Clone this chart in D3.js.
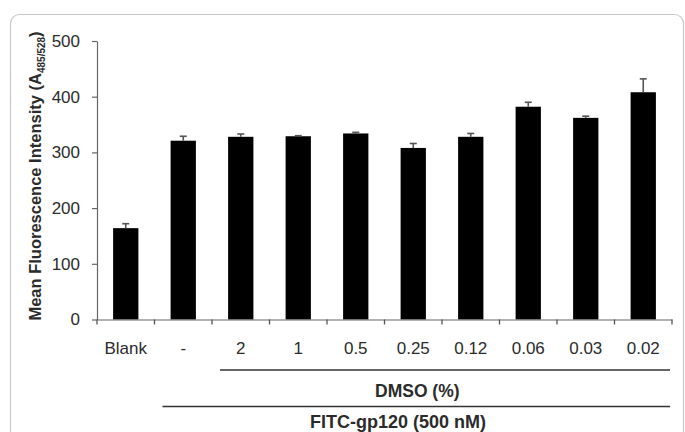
<!DOCTYPE html>
<html><head><meta charset="utf-8">
<script src="https://cdn.jsdelivr.net/npm/d3@7/dist/d3.min.js"></script>
<style>html,body{margin:0;padding:0;background:#fff;}svg{display:block;}</style>
</head><body>
<svg id="chart" width="685" height="432"></svg>
<script>
const categories = ["Blank","-","2","1","0.5","0.25","0.12","0.06","0.03","0.02"];
const means = [164, 321, 328, 329, 334, 308, 328, 382, 362, 408];
const errors = [8, 8, 5, 1, 2, 8, 6, 8, 3, 24];
const yTicks = [0, 100, 200, 300, 400, 500];
const groups = [
  {label: "DMSO (%)", from: "2", to: "0.02"},
  {label: "FITC-gp120 (500 nM)", from: "-", to: "0.02"}
];

(function(){
const svg = d3.select("#chart");
const font = "'Liberation Sans', Arial, sans-serif";
const textColor = "#2b2b2b";

// frame
svg.append("rect").attr("x",10.5).attr("y",14.5).attr("width",673).attr("height",460)
  .attr("rx",9).attr("fill","none").attr("stroke","#c8c8c8").attr("stroke-width",1.2);

const pl = 97, pr = 672, pt = 41, pb = 319.5;
const x = d3.scaleBand().domain(categories).range([pl, pr]).paddingInner(0.56).paddingOuter(0.28);
const y = d3.scaleLinear().domain([0, 500]).range([pb, pt]);
const step = x.step();

// bars
svg.selectAll("rect.bar").data(categories).join("rect").attr("class","bar")
  .attr("x", d => x(d)).attr("width", x.bandwidth())
  .attr("y", (d,i) => y(means[i])).attr("height", (d,i) => y(0) - y(means[i]))
  .attr("fill","#000");

// error bars
const eb = svg.append("g").attr("stroke","#555").attr("stroke-width",1.6);
categories.forEach((d,i) => {
  const cx = x(d) + x.bandwidth()/2;
  eb.append("line").attr("x1",cx).attr("x2",cx).attr("y1",y(means[i])).attr("y2",y(means[i]+errors[i]));
  eb.append("line").attr("x1",cx-3.5).attr("x2",cx+3.5).attr("y1",y(means[i]+errors[i])).attr("y2",y(means[i]+errors[i]));
});

// y axis
const yAxis = svg.append("g").attr("transform",`translate(${pl},0)`)
  .call(d3.axisLeft(y).tickValues(yTicks).tickSize(5).tickPadding(12).tickSizeOuter(0));
yAxis.select(".domain").attr("stroke","#666").attr("stroke-width",1.2);
yAxis.selectAll(".tick line").attr("stroke","#666").attr("stroke-width",1.2);
yAxis.selectAll(".tick text").attr("font-family",font).attr("font-size",17).attr("fill",textColor);

// x axis (labels)
const xAxis = svg.append("g").attr("transform",`translate(0,${pb})`)
  .call(d3.axisBottom(x).tickSize(0).tickPadding(22).tickSizeOuter(0));
xAxis.select(".domain").attr("stroke","#666").attr("stroke-width",1.2);
xAxis.selectAll(".tick text").attr("font-family",font).attr("font-size",17).attr("fill",textColor);
// x boundary ticks
const bounds = d3.range(categories.length + 1).map(i => pl + i*step);
svg.append("g").selectAll("line").data(bounds).join("line")
  .attr("x1",d=>d).attr("x2",d=>d).attr("y1",pb).attr("y2",pb+5)
  .attr("stroke","#555").attr("stroke-width",1.3);

// group brackets
const gy = [370, 406.5];
const gty = [397, 427.5];
groups.forEach((g,i) => {
  const x1 = x(g.from) - (step - x.bandwidth())/2 + 8;
  const x2 = pr - 2;
  svg.append("line").attr("x1",x1).attr("x2",x2).attr("y1",gy[i]).attr("y2",gy[i])
    .attr("stroke","#333").attr("stroke-width",1.5);
});
svg.append("text").attr("x",375).attr("y",gty[0]).attr("font-family",font).attr("font-size",17.5)
  .attr("font-weight","bold").attr("fill",textColor).text(groups[0].label);
svg.append("text").attr("x",310).attr("y",gty[1]).attr("font-family",font).attr("font-size",18)
  .attr("font-weight","bold").attr("fill",textColor).text(groups[1].label);

// y axis title
const yt = svg.append("text").attr("transform","translate(41,176) rotate(-90)")
  .attr("text-anchor","middle").attr("font-family",font).attr("font-size",16.5)
  .attr("font-weight","bold").attr("fill",textColor);
yt.append("tspan").text("Mean Fluorescence Intensity (A");
yt.append("tspan").attr("font-size",10).attr("dy",4).text("485/528");
yt.append("tspan").attr("dy",-4).text(")");
})();
</script>
</body></html>
